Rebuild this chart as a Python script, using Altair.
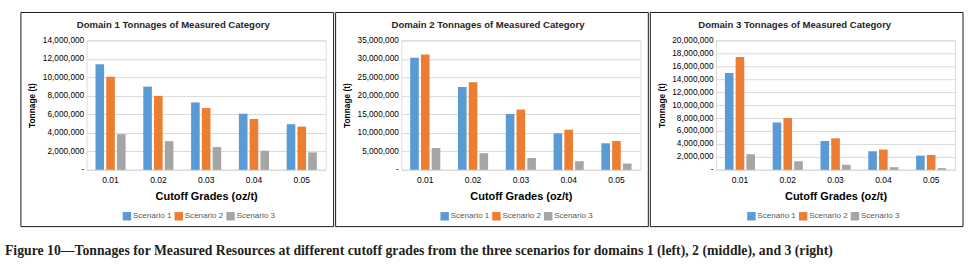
import altair as alt
import pandas as pd

grades = ["0.01", "0.02", "0.03", "0.04", "0.05"]
scenarios = ["Scenario 1", "Scenario 2", "Scenario 3"]

d1_s1 = [11430000, 9000000, 7290000, 6070000, 4930000]
d1_s2 = [10070000, 8000000, 6680000, 5500000, 4680000]
d1_s3 = [3860000, 3100000, 2460000, 2070000, 1890000]

d2_s1 = [30300000, 22400000, 15100000, 9870000, 7180000]
d2_s2 = [31200000, 23700000, 16300000, 10860000, 7800000]
d2_s3 = [5900000, 4500000, 3200000, 2330000, 1700000]

d3_s1 = [14970000, 7330000, 4460000, 2870000, 2200000]
d3_s2 = [17440000, 8000000, 4870000, 3130000, 2300000]
d3_s3 = [2410000, 1330000, 770000, 410000, 260000]

d1_ticks = [0, 2000000, 4000000, 6000000, 8000000, 10000000, 12000000, 14000000]
d2_ticks = [0, 5000000, 10000000, 15000000, 20000000, 25000000, 30000000, 35000000]
d3_ticks = [0, 2000000, 4000000, 6000000, 8000000, 10000000, 12000000, 14000000,
            16000000, 18000000, 20000000]

titles = ["Domain 1 Tonnages of Measured Category",
          "Domain 2 Tonnages of Measured Category",
          "Domain 3 Tonnages of Measured Category"]
colors = ["#5B9BD5", "#ED7D31", "#A5A5A5"]
caption = ("Figure 10\u2014Tonnages for Measured Resources at different cutoff grades "
           "from the three scenarios for domains 1 (left), 2 (middle), and 3 (right)")

SANS = "Liberation Sans, Arial, sans-serif"
W, H = 240, 130


def make_df(s1, s2, s3):
    rows = []
    for series, vals in zip(scenarios, [s1, s2, s3]):
        for g, v in zip(grades, vals):
            rows.append({"grade": g, "scenario": series, "tonnage": v})
    return pd.DataFrame(rows)


def panel(df, ticks, title, dx, legx):
    bars = alt.Chart(df).mark_bar().encode(
        x=alt.X("grade:N", sort=grades,
                scale=alt.Scale(paddingInner=0.37, paddingOuter=0.185),
                axis=alt.Axis(title="Cutoff Grades (oz/t)", labelAngle=0, ticks=False,
                              tickSize=0, labelPadding=6, titlePadding=6,
                              labelFontSize=8.5,
                              domainColor="#D9D9D9", grid=False)),
        xOffset=alt.XOffset("scenario:N", sort=scenarios,
                            scale=alt.Scale(paddingInner=0.2, paddingOuter=0)),
        y=alt.Y("tonnage:Q",
                scale=alt.Scale(domain=[ticks[0], ticks[-1]], nice=False),
                axis=alt.Axis(title="Tonnage (t)", values=ticks, ticks=False, tickSize=0,
                              domain=False, labelPadding=3, labelFontSize=8.3,
                              labelExpr="datum.value == 0 ? '-' : format(datum.value, ',')",
                              titleX=-50, titleY=H / 2, titleFontSize=8.4,
                              gridColor="#D9D9D9")),
        color=alt.Color("scenario:N", sort=scenarios,
                        scale=alt.Scale(domain=scenarios, range=colors),
                        legend=alt.Legend(title=None, orient="none", direction="horizontal",
                                          legendX=legx, legendY=172, symbolType="square",
                                          symbolSize=72, symbolStrokeWidth=0,
                                          labelOffset=1.5, columnPadding=2,
                                          labelFontSize=8.1, labelColor="#595959",
                                          labelFont=SANS)),
    )
    frame = alt.Chart(pd.DataFrame({"a": [0]})).mark_rect(
        fill="white", fillOpacity=0, stroke="#1a1a1a", strokeWidth=1
    ).encode(x=alt.value(-66), x2=alt.value(W + 8), y=alt.value(-28), y2=alt.value(H + 57))
    return alt.layer(frame, bars).properties(
        width=W, height=H,
        title=alt.TitleParams(text=title, fontSize=9.6, font=SANS, fontWeight="bold",
                              color="#262626", anchor="middle", frame="group",
                              dx=dx, offset=-18),
    )


p1 = panel(make_df(d1_s1, d1_s2, d1_s3), d1_ticks, titles[0], -33, 36)
p2 = panel(make_df(d2_s1, d2_s2, d2_s3), d2_ticks, titles[1], -33, 39)
p3 = panel(make_df(d3_s1, d3_s2, d3_s3), d3_ticks, titles[2], -41, 31)

chart = alt.hconcat(p1, p2, p3, spacing=0).resolve_legend(
    color="independent"
).resolve_scale(color="independent").properties(
    padding={"left": 5, "top": 11, "right": 5, "bottom": 5},
    title=alt.TitleParams(text=caption, orient="bottom", anchor="start",
                          font="Liberation Serif", fontSize=13.8, fontWeight="bold",
                          color="#231f20", offset=17, dx=-15),
).configure_view(stroke=None).configure_axis(
    labelFont=SANS, titleFont=SANS, labelFontSize=8.5, titleFontSize=8.2,
    labelColor="#595959", titleColor="#262626", titleFontWeight="bold"
).configure(background="white")

chart.save("out.html", embed_options={"renderer": "svg", "actions": False})
